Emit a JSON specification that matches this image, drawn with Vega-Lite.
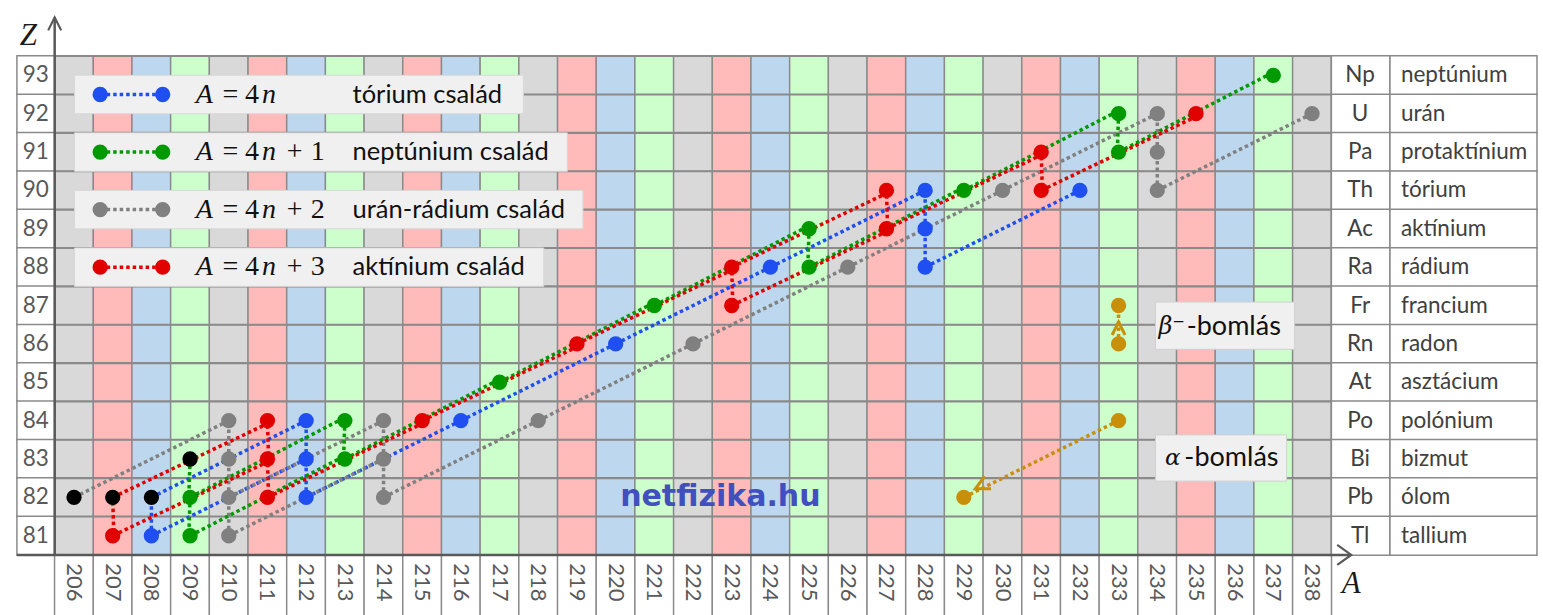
{
  "$schema": "https://vega.github.io/schema/vega-lite/v6.json",
  "width": 1543,
  "height": 615,
  "autosize": {"type": "none"},
  "padding": 0,
  "background": "white",
  "config": {"view": {"stroke": null}},
  "datasets": {
    "cols": [
      {"A": 206, "family": "4n+2"}, {"A": 207, "family": "4n+3"}, {"A": 208, "family": "4n"}, {"A": 209, "family": "4n+1"},
      {"A": 210, "family": "4n+2"}, {"A": 211, "family": "4n+3"}, {"A": 212, "family": "4n"}, {"A": 213, "family": "4n+1"},
      {"A": 214, "family": "4n+2"}, {"A": 215, "family": "4n+3"}, {"A": 216, "family": "4n"}, {"A": 217, "family": "4n+1"},
      {"A": 218, "family": "4n+2"}, {"A": 219, "family": "4n+3"}, {"A": 220, "family": "4n"}, {"A": 221, "family": "4n+1"},
      {"A": 222, "family": "4n+2"}, {"A": 223, "family": "4n+3"}, {"A": 224, "family": "4n"}, {"A": 225, "family": "4n+1"},
      {"A": 226, "family": "4n+2"}, {"A": 227, "family": "4n+3"}, {"A": 228, "family": "4n"}, {"A": 229, "family": "4n+1"},
      {"A": 230, "family": "4n+2"}, {"A": 231, "family": "4n+3"}, {"A": 232, "family": "4n"}, {"A": 233, "family": "4n+1"},
      {"A": 234, "family": "4n+2"}, {"A": 235, "family": "4n+3"}, {"A": 236, "family": "4n"}, {"A": 237, "family": "4n+1"},
      {"A": 238, "family": "4n+2"}
    ],
    "rows": [
      {"Z": 93, "sym": "Np", "name": "neptúnium"},
      {"Z": 92, "sym": "U", "name": "urán"},
      {"Z": 91, "sym": "Pa", "name": "protaktínium"},
      {"Z": 90, "sym": "Th", "name": "tórium"},
      {"Z": 89, "sym": "Ac", "name": "aktínium"},
      {"Z": 88, "sym": "Ra", "name": "rádium"},
      {"Z": 87, "sym": "Fr", "name": "francium"},
      {"Z": 86, "sym": "Rn", "name": "radon"},
      {"Z": 85, "sym": "At", "name": "asztácium"},
      {"Z": 84, "sym": "Po", "name": "polónium"},
      {"Z": 83, "sym": "Bi", "name": "bizmut"},
      {"Z": 82, "sym": "Pb", "name": "ólom"},
      {"Z": 81, "sym": "Tl", "name": "tallium"}
    ],
    "pts": [
      {"family": "4n", "A": 232, "Z": 90}, {"family": "4n", "A": 228, "Z": 88}, {"family": "4n", "A": 228, "Z": 89},
      {"family": "4n", "A": 228, "Z": 90}, {"family": "4n", "A": 224, "Z": 88}, {"family": "4n", "A": 220, "Z": 86},
      {"family": "4n", "A": 216, "Z": 84}, {"family": "4n", "A": 212, "Z": 82}, {"family": "4n", "A": 212, "Z": 83},
      {"family": "4n", "A": 212, "Z": 84}, {"family": "4n", "A": 208, "Z": 81},
      {"family": "4n+1", "A": 237, "Z": 93}, {"family": "4n+1", "A": 233, "Z": 91}, {"family": "4n+1", "A": 233, "Z": 92},
      {"family": "4n+1", "A": 229, "Z": 90}, {"family": "4n+1", "A": 225, "Z": 88}, {"family": "4n+1", "A": 225, "Z": 89},
      {"family": "4n+1", "A": 221, "Z": 87}, {"family": "4n+1", "A": 217, "Z": 85}, {"family": "4n+1", "A": 213, "Z": 83},
      {"family": "4n+1", "A": 213, "Z": 84}, {"family": "4n+1", "A": 209, "Z": 82}, {"family": "4n+1", "A": 209, "Z": 81},
      {"family": "4n+2", "A": 238, "Z": 92}, {"family": "4n+2", "A": 234, "Z": 90}, {"family": "4n+2", "A": 234, "Z": 91},
      {"family": "4n+2", "A": 234, "Z": 92}, {"family": "4n+2", "A": 230, "Z": 90}, {"family": "4n+2", "A": 226, "Z": 88},
      {"family": "4n+2", "A": 222, "Z": 86}, {"family": "4n+2", "A": 218, "Z": 84}, {"family": "4n+2", "A": 214, "Z": 82},
      {"family": "4n+2", "A": 214, "Z": 83}, {"family": "4n+2", "A": 214, "Z": 84}, {"family": "4n+2", "A": 210, "Z": 82},
      {"family": "4n+2", "A": 210, "Z": 83}, {"family": "4n+2", "A": 210, "Z": 84}, {"family": "4n+2", "A": 210, "Z": 81},
      {"family": "4n+3", "A": 235, "Z": 92}, {"family": "4n+3", "A": 231, "Z": 90}, {"family": "4n+3", "A": 231, "Z": 91},
      {"family": "4n+3", "A": 227, "Z": 89}, {"family": "4n+3", "A": 227, "Z": 90}, {"family": "4n+3", "A": 223, "Z": 88},
      {"family": "4n+3", "A": 223, "Z": 87}, {"family": "4n+3", "A": 219, "Z": 86}, {"family": "4n+3", "A": 215, "Z": 84},
      {"family": "4n+3", "A": 211, "Z": 82}, {"family": "4n+3", "A": 211, "Z": 83}, {"family": "4n+3", "A": 211, "Z": 84},
      {"family": "4n+3", "A": 207, "Z": 81},
      {"family": "stable", "A": 206, "Z": 82}, {"family": "stable", "A": 207, "Z": 82},
      {"family": "stable", "A": 208, "Z": 82}, {"family": "stable", "A": 209, "Z": 83},
      {"family": "demo", "A": 233, "Z": 87}, {"family": "demo", "A": 233, "Z": 86},
      {"family": "demo", "A": 233, "Z": 84}, {"family": "demo", "A": 229, "Z": 82}
    ],
    "segs": [
      {"family": "4n", "A1": 232, "Z1": 90, "A2": 228, "Z2": 88},
      {"family": "4n", "A1": 228, "Z1": 88, "A2": 228, "Z2": 89},
      {"family": "4n", "A1": 228, "Z1": 89, "A2": 228, "Z2": 90},
      {"family": "4n", "A1": 228, "Z1": 90, "A2": 224, "Z2": 88},
      {"family": "4n", "A1": 224, "Z1": 88, "A2": 220, "Z2": 86},
      {"family": "4n", "A1": 220, "Z1": 86, "A2": 216, "Z2": 84},
      {"family": "4n", "A1": 216, "Z1": 84, "A2": 212, "Z2": 82},
      {"family": "4n", "A1": 212, "Z1": 82, "A2": 212, "Z2": 83},
      {"family": "4n", "A1": 212, "Z1": 83, "A2": 212, "Z2": 84},
      {"family": "4n", "A1": 212, "Z1": 84, "A2": 208, "Z2": 82},
      {"family": "4n", "A1": 212, "Z1": 83, "A2": 208, "Z2": 81},
      {"family": "4n", "A1": 208, "Z1": 81, "A2": 208, "Z2": 82},
      {"family": "4n+1", "A1": 237, "Z1": 93, "A2": 233, "Z2": 91},
      {"family": "4n+1", "A1": 233, "Z1": 91, "A2": 233, "Z2": 92},
      {"family": "4n+1", "A1": 233, "Z1": 92, "A2": 229, "Z2": 90},
      {"family": "4n+1", "A1": 229, "Z1": 90, "A2": 225, "Z2": 88},
      {"family": "4n+1", "A1": 225, "Z1": 88, "A2": 225, "Z2": 89},
      {"family": "4n+1", "A1": 225, "Z1": 89, "A2": 221, "Z2": 87},
      {"family": "4n+1", "A1": 221, "Z1": 87, "A2": 217, "Z2": 85},
      {"family": "4n+1", "A1": 217, "Z1": 85, "A2": 213, "Z2": 83},
      {"family": "4n+1", "A1": 213, "Z1": 83, "A2": 213, "Z2": 84},
      {"family": "4n+1", "A1": 213, "Z1": 84, "A2": 209, "Z2": 82},
      {"family": "4n+1", "A1": 213, "Z1": 83, "A2": 209, "Z2": 81},
      {"family": "4n+1", "A1": 209, "Z1": 81, "A2": 209, "Z2": 82},
      {"family": "4n+1", "A1": 209, "Z1": 82, "A2": 209, "Z2": 83},
      {"family": "4n+2", "A1": 238, "Z1": 92, "A2": 234, "Z2": 90},
      {"family": "4n+2", "A1": 234, "Z1": 90, "A2": 234, "Z2": 91},
      {"family": "4n+2", "A1": 234, "Z1": 91, "A2": 234, "Z2": 92},
      {"family": "4n+2", "A1": 234, "Z1": 92, "A2": 230, "Z2": 90},
      {"family": "4n+2", "A1": 230, "Z1": 90, "A2": 226, "Z2": 88},
      {"family": "4n+2", "A1": 226, "Z1": 88, "A2": 222, "Z2": 86},
      {"family": "4n+2", "A1": 222, "Z1": 86, "A2": 218, "Z2": 84},
      {"family": "4n+2", "A1": 218, "Z1": 84, "A2": 214, "Z2": 82},
      {"family": "4n+2", "A1": 214, "Z1": 82, "A2": 214, "Z2": 83},
      {"family": "4n+2", "A1": 214, "Z1": 83, "A2": 214, "Z2": 84},
      {"family": "4n+2", "A1": 214, "Z1": 84, "A2": 210, "Z2": 82},
      {"family": "4n+2", "A1": 214, "Z1": 83, "A2": 210, "Z2": 81},
      {"family": "4n+2", "A1": 210, "Z1": 81, "A2": 210, "Z2": 82},
      {"family": "4n+2", "A1": 210, "Z1": 82, "A2": 210, "Z2": 83},
      {"family": "4n+2", "A1": 210, "Z1": 83, "A2": 210, "Z2": 84},
      {"family": "4n+2", "A1": 210, "Z1": 84, "A2": 206, "Z2": 82},
      {"family": "4n+3", "A1": 235, "Z1": 92, "A2": 231, "Z2": 90},
      {"family": "4n+3", "A1": 231, "Z1": 90, "A2": 231, "Z2": 91},
      {"family": "4n+3", "A1": 231, "Z1": 91, "A2": 227, "Z2": 89},
      {"family": "4n+3", "A1": 227, "Z1": 89, "A2": 227, "Z2": 90},
      {"family": "4n+3", "A1": 227, "Z1": 90, "A2": 223, "Z2": 88},
      {"family": "4n+3", "A1": 227, "Z1": 89, "A2": 223, "Z2": 87},
      {"family": "4n+3", "A1": 223, "Z1": 87, "A2": 223, "Z2": 88},
      {"family": "4n+3", "A1": 223, "Z1": 88, "A2": 219, "Z2": 86},
      {"family": "4n+3", "A1": 219, "Z1": 86, "A2": 215, "Z2": 84},
      {"family": "4n+3", "A1": 215, "Z1": 84, "A2": 211, "Z2": 82},
      {"family": "4n+3", "A1": 211, "Z1": 82, "A2": 211, "Z2": 83},
      {"family": "4n+3", "A1": 211, "Z1": 83, "A2": 211, "Z2": 84},
      {"family": "4n+3", "A1": 211, "Z1": 84, "A2": 207, "Z2": 82},
      {"family": "4n+3", "A1": 211, "Z1": 83, "A2": 207, "Z2": 81},
      {"family": "4n+3", "A1": 207, "Z1": 81, "A2": 207, "Z2": 82},
      {"family": "demo", "A1": 233, "Z1": 86, "A2": 233, "Z2": 87},
      {"family": "demo", "A1": 233, "Z1": 84, "A2": 229, "Z2": 82}
    ],
    "leg": [
      {"family": "4n", "lz": 92.5, "plus": "", "d": "", "name": "tórium család"},
      {"family": "4n+1", "lz": 91, "plus": "+", "d": "1", "name": "neptúnium család"},
      {"family": "4n+2", "lz": 89.5, "plus": "+", "d": "2", "name": "urán-rádium család"},
      {"family": "4n+3", "lz": 88, "plus": "+", "d": "3", "name": "aktínium család"}
    ]
  },
  "layer": [
    {
      "data": {"name": "cols"},
      "mark": {"type": "bar", "width": 38.94, "stroke": "#8a8a8a", "strokeWidth": 1.5},
      "encoding": {
        "x": {"field": "A", "type": "quantitative", "scale": {"domain": [204.216, 243.841], "nice": false, "zero": false}, "axis": null},
        "y": {"datum": 80.5, "type": "quantitative", "scale": {"domain": [79.064, 94.833], "nice": false, "zero": false}, "axis": null},
        "y2": {"datum": 93.5},
        "fill": {"field": "family", "type": "nominal", "scale": {"domain": ["4n", "4n+1", "4n+2", "4n+3"], "range": ["#bdd7ee", "#ccffcc", "#d9d9d9", "#ffbaba"]}, "legend": null}
      }
    },
    {
      "data": {"name": "rows"},
      "mark": {"type": "bar", "height": 39, "fillOpacity": 0, "stroke": "#8a8a8a", "strokeWidth": 1.5},
      "encoding": {
        "y": {"field": "Z", "type": "quantitative", "scale": {"domain": [79.064, 94.833], "nice": false, "zero": false}, "axis": null},
        "x": {"datum": 205.5, "type": "quantitative", "scale": {"domain": [204.216, 243.841], "nice": false, "zero": false}, "axis": null},
        "x2": {"datum": 238.5}
      }
    },
    {
      "data": {"name": "rows"},
      "mark": {"type": "bar", "height": 39, "fill": "white", "stroke": "#8a8a8a", "strokeWidth": 1.5},
      "encoding": {
        "y": {"field": "Z", "type": "quantitative", "scale": {"domain": [79.064, 94.833], "nice": false, "zero": false}, "axis": null},
        "x": {"datum": 204.524, "type": "quantitative", "scale": {"domain": [204.216, 243.841], "nice": false, "zero": false}, "axis": null},
        "x2": {"datum": 205.5}
      }
    },
    {
      "data": {"name": "rows"},
      "mark": {"type": "bar", "height": 39, "fill": "white", "stroke": "#8a8a8a", "strokeWidth": 1.5},
      "encoding": {
        "y": {"field": "Z", "type": "quantitative", "scale": {"domain": [79.064, 94.833], "nice": false, "zero": false}, "axis": null},
        "x": {"datum": 238.5, "type": "quantitative", "scale": {"domain": [204.216, 243.841], "nice": false, "zero": false}, "axis": null},
        "x2": {"datum": 240.015}
      }
    },
    {
      "data": {"name": "rows"},
      "mark": {"type": "bar", "height": 39, "fill": "white", "stroke": "#8a8a8a", "strokeWidth": 1.5},
      "encoding": {
        "y": {"field": "Z", "type": "quantitative", "scale": {"domain": [79.064, 94.833], "nice": false, "zero": false}, "axis": null},
        "x": {"datum": 240.015, "type": "quantitative", "scale": {"domain": [204.216, 243.841], "nice": false, "zero": false}, "axis": null},
        "x2": {"datum": 243.815}
      }
    },
    {
      "data": {"name": "cols"},
      "mark": {"type": "bar", "width": 38.94, "fill": "white", "stroke": "#8a8a8a", "strokeWidth": 1.5},
      "encoding": {
        "x": {"field": "A", "type": "quantitative", "scale": {"domain": [204.216, 243.841], "nice": false, "zero": false}, "axis": null},
        "y": {"datum": 78.9, "type": "quantitative", "scale": {"domain": [79.064, 94.833], "nice": false, "zero": false}, "axis": null},
        "y2": {"datum": 80.5}
      }
    },
    {
      "data": {"name": "rows"},
      "mark": {"type": "text", "font": "Lato", "fontSize": 22.5, "color": "#595959", "align": "center", "baseline": "middle"},
      "encoding": {
        "y": {"field": "Z", "type": "quantitative", "scale": {"domain": [79.064, 94.833], "nice": false, "zero": false}, "axis": null},
        "x": {"datum": 205.012, "type": "quantitative", "scale": {"domain": [204.216, 243.841], "nice": false, "zero": false}, "axis": null},
        "text": {"field": "Z", "type": "nominal"}
      }
    },
    {
      "data": {"name": "rows"},
      "mark": {"type": "text", "font": "Lato", "fontSize": 22.5, "color": "#404040", "align": "center", "baseline": "middle"},
      "encoding": {
        "y": {"field": "Z", "type": "quantitative", "scale": {"domain": [79.064, 94.833], "nice": false, "zero": false}, "axis": null},
        "x": {"datum": 239.244, "type": "quantitative", "scale": {"domain": [204.216, 243.841], "nice": false, "zero": false}, "axis": null},
        "text": {"field": "sym", "type": "nominal"}
      }
    },
    {
      "data": {"name": "rows"},
      "mark": {"type": "text", "font": "Lato", "fontSize": 22.5, "color": "#404040", "align": "left", "baseline": "middle"},
      "encoding": {
        "y": {"field": "Z", "type": "quantitative", "scale": {"domain": [79.064, 94.833], "nice": false, "zero": false}, "axis": null},
        "x": {"datum": 240.297, "type": "quantitative", "scale": {"domain": [204.216, 243.841], "nice": false, "zero": false}, "axis": null},
        "text": {"field": "name", "type": "nominal"}
      }
    },
    {
      "data": {"name": "cols"},
      "mark": {"type": "text", "font": "Lato", "fontSize": 22, "color": "#595959", "align": "center", "baseline": "middle", "angle": 90},
      "encoding": {
        "x": {"field": "A", "type": "quantitative", "scale": {"domain": [204.216, 243.841], "nice": false, "zero": false}, "axis": null},
        "y": {"datum": 79.782, "type": "quantitative", "scale": {"domain": [79.064, 94.833], "nice": false, "zero": false}, "axis": null},
        "text": {"field": "A", "type": "nominal"}
      }
    },
    {
      "data": {"values": [{}]},
      "mark": {"type": "rule", "stroke": "#595959", "strokeWidth": 2.5},
      "encoding": {
        "x": {"datum": 205.5, "type": "quantitative", "scale": {"domain": [204.216, 243.841], "nice": false, "zero": false}, "axis": null},
        "y": {"datum": 80.5, "type": "quantitative", "scale": {"domain": [79.064, 94.833], "nice": false, "zero": false}, "axis": null},
        "y2": {"datum": 94.507}
      }
    },
    {
      "data": {"values": [{}]},
      "mark": {"type": "rule", "stroke": "#595959", "strokeWidth": 2.5},
      "encoding": {
        "x": {"datum": 204.524, "type": "quantitative", "scale": {"domain": [204.216, 243.841], "nice": false, "zero": false}, "axis": null},
        "x2": {"datum": 239.013},
        "y": {"datum": 80.5, "type": "quantitative", "scale": {"domain": [79.064, 94.833], "nice": false, "zero": false}, "axis": null}
      }
    },
    {
      "data": {"values": [{}]},
      "mark": {"type": "point", "shape": "M-1,1L0,-1L1,1", "size": 169, "filled": false, "stroke": "#595959", "strokeWidth": 2.2, "opacity": 1},
      "encoding": {
        "x": {"datum": 205.5, "type": "quantitative", "scale": {"domain": [204.216, 243.841], "nice": false, "zero": false}, "axis": null},
        "y": {"datum": 94.341, "type": "quantitative", "scale": {"domain": [79.064, 94.833], "nice": false, "zero": false}, "axis": null}
      }
    },
    {
      "data": {"values": [{}]},
      "mark": {"type": "point", "shape": "M-0.7,-1L0.7,0L-0.7,1", "size": 400, "filled": false, "stroke": "#595959", "strokeWidth": 2.2, "opacity": 1},
      "encoding": {
        "x": {"datum": 238.833, "type": "quantitative", "scale": {"domain": [204.216, 243.841], "nice": false, "zero": false}, "axis": null},
        "y": {"datum": 80.5, "type": "quantitative", "scale": {"domain": [79.064, 94.833], "nice": false, "zero": false}, "axis": null}
      }
    },
    {
      "data": {"values": [{"t": "Z"}]},
      "mark": {"type": "text", "font": "Liberation Serif", "fontStyle": "italic", "fontSize": 31, "color": "#1a1a1a", "align": "center", "baseline": "middle"},
      "encoding": {
        "x": {"datum": 204.819, "type": "quantitative", "scale": {"domain": [204.216, 243.841], "nice": false, "zero": false}, "axis": null},
        "y": {"datum": 94.038, "type": "quantitative", "scale": {"domain": [79.064, 94.833], "nice": false, "zero": false}, "axis": null},
        "text": {"field": "t", "type": "nominal"}
      }
    },
    {
      "data": {"values": [{"t": "A"}]},
      "mark": {"type": "text", "font": "Liberation Serif", "fontStyle": "italic", "fontSize": 31, "color": "#1a1a1a", "align": "center", "baseline": "middle"},
      "encoding": {
        "x": {"datum": 239.013, "type": "quantitative", "scale": {"domain": [204.216, 243.841], "nice": false, "zero": false}, "axis": null},
        "y": {"datum": 79.731, "type": "quantitative", "scale": {"domain": [79.064, 94.833], "nice": false, "zero": false}, "axis": null},
        "text": {"field": "t", "type": "nominal"}
      }
    },
    {
      "data": {"values": [{}]},
      "mark": {"type": "rect", "fill": "#f0f0f0", "stroke": "#d9d9d9", "strokeWidth": 1},
      "encoding": {
        "x": {"datum": 206.014, "type": "quantitative", "scale": {"domain": [204.216, 243.841], "nice": false, "zero": false}, "axis": null},
        "x2": {"datum": 217.614},
        "y": {"datum": 92, "type": "quantitative", "scale": {"domain": [79.064, 94.833], "nice": false, "zero": false}, "axis": null},
        "y2": {"datum": 93}
      }
    },
    {
      "data": {"values": [{}]},
      "mark": {"type": "rect", "fill": "#f0f0f0", "stroke": "#d9d9d9", "strokeWidth": 1},
      "encoding": {
        "x": {"datum": 206.014, "type": "quantitative", "scale": {"domain": [204.216, 243.841], "nice": false, "zero": false}, "axis": null},
        "x2": {"datum": 218.751},
        "y": {"datum": 90.5, "type": "quantitative", "scale": {"domain": [79.064, 94.833], "nice": false, "zero": false}, "axis": null},
        "y2": {"datum": 91.5}
      }
    },
    {
      "data": {"values": [{}]},
      "mark": {"type": "rect", "fill": "#f0f0f0", "stroke": "#d9d9d9", "strokeWidth": 1},
      "encoding": {
        "x": {"datum": 206.014, "type": "quantitative", "scale": {"domain": [204.216, 243.841], "nice": false, "zero": false}, "axis": null},
        "x2": {"datum": 219.154},
        "y": {"datum": 89, "type": "quantitative", "scale": {"domain": [79.064, 94.833], "nice": false, "zero": false}, "axis": null},
        "y2": {"datum": 90}
      }
    },
    {
      "data": {"values": [{}]},
      "mark": {"type": "rect", "fill": "#f0f0f0", "stroke": "#d9d9d9", "strokeWidth": 1},
      "encoding": {
        "x": {"datum": 206.014, "type": "quantitative", "scale": {"domain": [204.216, 243.841], "nice": false, "zero": false}, "axis": null},
        "x2": {"datum": 218.142},
        "y": {"datum": 87.5, "type": "quantitative", "scale": {"domain": [79.064, 94.833], "nice": false, "zero": false}, "axis": null},
        "y2": {"datum": 88.5}
      }
    },
    {
      "data": {"name": "leg"},
      "mark": {"type": "rule", "strokeWidth": 3.5, "strokeDash": [3.5, 3], "strokeCap": "butt"},
      "encoding": {
        "x": {"datum": 206.676, "type": "quantitative", "scale": {"domain": [204.216, 243.841], "nice": false, "zero": false}, "axis": null},
        "x2": {"datum": 208.292},
        "y": {"field": "lz", "type": "quantitative", "scale": {"domain": [79.064, 94.833], "nice": false, "zero": false}, "axis": null},
        "color": {"field": "family", "type": "nominal", "scale": {"domain": ["4n", "4n+1", "4n+2", "4n+3", "stable", "demo"], "range": ["#1f4ff0", "#009a00", "#808080", "#e00000", "#000000", "#c8900a"]}, "legend": null}
      }
    },
    {
      "data": {"name": "leg"},
      "mark": {"type": "circle", "size": 235, "opacity": 1},
      "encoding": {
        "x": {"datum": 206.676, "type": "quantitative", "scale": {"domain": [204.216, 243.841], "nice": false, "zero": false}, "axis": null},
        "y": {"field": "lz", "type": "quantitative", "scale": {"domain": [79.064, 94.833], "nice": false, "zero": false}, "axis": null},
        "color": {"field": "family", "type": "nominal", "scale": {"domain": ["4n", "4n+1", "4n+2", "4n+3", "stable", "demo"], "range": ["#1f4ff0", "#009a00", "#808080", "#e00000", "#000000", "#c8900a"]}, "legend": null}
      }
    },
    {
      "data": {"name": "leg"},
      "mark": {"type": "circle", "size": 235, "opacity": 1},
      "encoding": {
        "x": {"datum": 208.292, "type": "quantitative", "scale": {"domain": [204.216, 243.841], "nice": false, "zero": false}, "axis": null},
        "y": {"field": "lz", "type": "quantitative", "scale": {"domain": [79.064, 94.833], "nice": false, "zero": false}, "axis": null},
        "color": {"field": "family", "type": "nominal", "scale": {"domain": ["4n", "4n+1", "4n+2", "4n+3", "stable", "demo"], "range": ["#1f4ff0", "#009a00", "#808080", "#e00000", "#000000", "#c8900a"]}, "legend": null}
      }
    },
    {
      "data": {"name": "leg"},
      "mark": {"type": "text", "font": "Liberation Serif", "fontStyle": "italic", "fontSize": 28, "color": "#111111", "align": "center", "baseline": "middle", "text": "A"},
      "encoding": {
        "x": {"datum": 209.37, "type": "quantitative", "scale": {"domain": [204.216, 243.841], "nice": false, "zero": false}, "axis": null},
        "y": {"field": "lz", "type": "quantitative", "scale": {"domain": [79.064, 94.833], "nice": false, "zero": false}, "axis": null}
      }
    },
    {
      "data": {"name": "leg"},
      "mark": {"type": "text", "font": "Liberation Serif", "fontSize": 28, "color": "#111111", "align": "center", "baseline": "middle", "text": "="},
      "encoding": {
        "x": {"datum": 210.04, "type": "quantitative", "scale": {"domain": [204.216, 243.841], "nice": false, "zero": false}, "axis": null},
        "y": {"field": "lz", "type": "quantitative", "scale": {"domain": [79.064, 94.833], "nice": false, "zero": false}, "axis": null}
      }
    },
    {
      "data": {"name": "leg"},
      "mark": {"type": "text", "font": "Liberation Serif", "fontSize": 28, "color": "#111111", "align": "center", "baseline": "middle", "text": "4"},
      "encoding": {
        "x": {"datum": 210.6, "type": "quantitative", "scale": {"domain": [204.216, 243.841], "nice": false, "zero": false}, "axis": null},
        "y": {"field": "lz", "type": "quantitative", "scale": {"domain": [79.064, 94.833], "nice": false, "zero": false}, "axis": null}
      }
    },
    {
      "data": {"name": "leg"},
      "mark": {"type": "text", "font": "Liberation Serif", "fontStyle": "italic", "fontSize": 28, "color": "#111111", "align": "center", "baseline": "middle", "text": "n"},
      "encoding": {
        "x": {"datum": 211.04, "type": "quantitative", "scale": {"domain": [204.216, 243.841], "nice": false, "zero": false}, "axis": null},
        "y": {"field": "lz", "type": "quantitative", "scale": {"domain": [79.064, 94.833], "nice": false, "zero": false}, "axis": null}
      }
    },
    {
      "data": {"name": "leg"},
      "mark": {"type": "text", "font": "Liberation Serif", "fontSize": 28, "color": "#111111", "align": "center", "baseline": "middle"},
      "encoding": {
        "x": {"datum": 211.7, "type": "quantitative", "scale": {"domain": [204.216, 243.841], "nice": false, "zero": false}, "axis": null},
        "y": {"field": "lz", "type": "quantitative", "scale": {"domain": [79.064, 94.833], "nice": false, "zero": false}, "axis": null},
        "text": {"field": "plus", "type": "nominal"}
      }
    },
    {
      "data": {"name": "leg"},
      "mark": {"type": "text", "font": "Liberation Serif", "fontSize": 28, "color": "#111111", "align": "center", "baseline": "middle"},
      "encoding": {
        "x": {"datum": 212.298, "type": "quantitative", "scale": {"domain": [204.216, 243.841], "nice": false, "zero": false}, "axis": null},
        "y": {"field": "lz", "type": "quantitative", "scale": {"domain": [79.064, 94.833], "nice": false, "zero": false}, "axis": null},
        "text": {"field": "d", "type": "nominal"}
      }
    },
    {
      "data": {"name": "leg"},
      "mark": {"type": "text", "font": "Lato", "fontSize": 25.5, "color": "#111111", "align": "left", "baseline": "middle"},
      "encoding": {
        "x": {"datum": 213.2, "type": "quantitative", "scale": {"domain": [204.216, 243.841], "nice": false, "zero": false}, "axis": null},
        "y": {"field": "lz", "type": "quantitative", "scale": {"domain": [79.064, 94.833], "nice": false, "zero": false}, "axis": null},
        "text": {"field": "name", "type": "nominal"}
      }
    },
    {
      "data": {"name": "segs"},
      "transform": [{"filter": "datum.family != '4n+1' && datum.family != '4n+3'"}],
      "mark": {"type": "rule", "strokeWidth": 3.5, "strokeDash": [3.5, 3], "strokeCap": "butt"},
      "encoding": {
        "x": {"field": "A1", "type": "quantitative", "scale": {"domain": [204.216, 243.841], "nice": false, "zero": false}, "axis": null},
        "x2": {"field": "A2"},
        "y": {"field": "Z1", "type": "quantitative", "scale": {"domain": [79.064, 94.833], "nice": false, "zero": false}, "axis": null},
        "y2": {"field": "Z2"},
        "color": {"field": "family", "type": "nominal", "scale": {"domain": ["4n", "4n+1", "4n+2", "4n+3", "stable", "demo"], "range": ["#1f4ff0", "#009a00", "#808080", "#e00000", "#000000", "#c8900a"]}, "legend": null}
      }
    },
    {
      "data": {"name": "segs"},
      "transform": [{"filter": "datum.family == '4n+1'"}],
      "mark": {"type": "rule", "strokeWidth": 3.5, "strokeDash": [3.5, 3], "strokeCap": "butt", "xOffset": -1.2, "yOffset": -2.4},
      "encoding": {
        "x": {"field": "A1", "type": "quantitative", "scale": {"domain": [204.216, 243.841], "nice": false, "zero": false}, "axis": null},
        "x2": {"field": "A2"},
        "y": {"field": "Z1", "type": "quantitative", "scale": {"domain": [79.064, 94.833], "nice": false, "zero": false}, "axis": null},
        "y2": {"field": "Z2"},
        "color": {"field": "family", "type": "nominal", "scale": {"domain": ["4n", "4n+1", "4n+2", "4n+3", "stable", "demo"], "range": ["#1f4ff0", "#009a00", "#808080", "#e00000", "#000000", "#c8900a"]}, "legend": null}
      }
    },
    {
      "data": {"name": "segs"},
      "transform": [{"filter": "datum.family == '4n+3'"}],
      "mark": {"type": "rule", "strokeWidth": 3.5, "strokeDash": [3.5, 3], "strokeCap": "butt", "xOffset": 1.2, "yOffset": 2.4},
      "encoding": {
        "x": {"field": "A1", "type": "quantitative", "scale": {"domain": [204.216, 243.841], "nice": false, "zero": false}, "axis": null},
        "x2": {"field": "A2"},
        "y": {"field": "Z1", "type": "quantitative", "scale": {"domain": [79.064, 94.833], "nice": false, "zero": false}, "axis": null},
        "y2": {"field": "Z2"},
        "color": {"field": "family", "type": "nominal", "scale": {"domain": ["4n", "4n+1", "4n+2", "4n+3", "stable", "demo"], "range": ["#1f4ff0", "#009a00", "#808080", "#e00000", "#000000", "#c8900a"]}, "legend": null}
      }
    },
    {
      "data": {"name": "pts"},
      "mark": {"type": "circle", "size": 235, "opacity": 1},
      "encoding": {
        "x": {"field": "A", "type": "quantitative", "scale": {"domain": [204.216, 243.841], "nice": false, "zero": false}, "axis": null},
        "y": {"field": "Z", "type": "quantitative", "scale": {"domain": [79.064, 94.833], "nice": false, "zero": false}, "axis": null},
        "color": {"field": "family", "type": "nominal", "scale": {"domain": ["4n", "4n+1", "4n+2", "4n+3", "stable", "demo"], "range": ["#1f4ff0", "#009a00", "#808080", "#e00000", "#000000", "#c8900a"]}, "legend": null}
      }
    },
    {
      "data": {"values": [{}]},
      "mark": {"type": "point", "shape": "M-1,1L0,-1L1,1", "size": 169, "filled": false, "stroke": "#c8900a", "strokeWidth": 3, "opacity": 1},
      "encoding": {
        "x": {"datum": 233, "type": "quantitative", "scale": {"domain": [204.216, 243.841], "nice": false, "zero": false}, "axis": null},
        "y": {"datum": 86.4, "type": "quantitative", "scale": {"domain": [79.064, 94.833], "nice": false, "zero": false}, "axis": null}
      }
    },
    {
      "data": {"values": [{}]},
      "mark": {"type": "point", "shape": "M-1,1L0,-1L1,1", "size": 196, "filled": false, "stroke": "#c8900a", "strokeWidth": 3, "opacity": 1, "angle": 243.4},
      "encoding": {
        "x": {"datum": 229.46, "type": "quantitative", "scale": {"domain": [204.216, 243.841], "nice": false, "zero": false}, "axis": null},
        "y": {"datum": 82.305, "type": "quantitative", "scale": {"domain": [79.064, 94.833], "nice": false, "zero": false}, "axis": null}
      }
    },
    {
      "data": {"values": [{}]},
      "mark": {"type": "rect", "fill": "#f0f0f0", "stroke": "#d0d0d0", "strokeWidth": 1},
      "encoding": {
        "x": {"datum": 233.954, "type": "quantitative", "scale": {"domain": [204.216, 243.841], "nice": false, "zero": false}, "axis": null},
        "x2": {"datum": 237.55},
        "y": {"datum": 85.859, "type": "quantitative", "scale": {"domain": [79.064, 94.833], "nice": false, "zero": false}, "axis": null},
        "y2": {"datum": 87.09}
      }
    },
    {
      "data": {"values": [{}]},
      "mark": {"type": "rect", "fill": "#f0f0f0", "stroke": "#d0d0d0", "strokeWidth": 1},
      "encoding": {
        "x": {"datum": 233.954, "type": "quantitative", "scale": {"domain": [204.216, 243.841], "nice": false, "zero": false}, "axis": null},
        "x2": {"datum": 237.344},
        "y": {"datum": 82.423, "type": "quantitative", "scale": {"domain": [79.064, 94.833], "nice": false, "zero": false}, "axis": null},
        "y2": {"datum": 83.628}
      }
    },
    {
      "data": {"values": [{"t": "β⁻"}]},
      "mark": {"type": "text", "font": "DejaVu Serif", "fontStyle": "italic", "fontSize": 24, "color": "#111111", "align": "left", "baseline": "middle"},
      "encoding": {
        "x": {"datum": 234.031, "type": "quantitative", "scale": {"domain": [204.216, 243.841], "nice": false, "zero": false}, "axis": null},
        "y": {"datum": 86.44, "type": "quantitative", "scale": {"domain": [79.064, 94.833], "nice": false, "zero": false}, "axis": null},
        "text": {"field": "t", "type": "nominal"}
      }
    },
    {
      "data": {"values": [{"t": "-bomlás"}]},
      "mark": {"type": "text", "font": "Lato", "fontSize": 27, "color": "#111111", "align": "left", "baseline": "middle"},
      "encoding": {
        "x": {"datum": 234.76, "type": "quantitative", "scale": {"domain": [204.216, 243.841], "nice": false, "zero": false}, "axis": null},
        "y": {"datum": 86.44, "type": "quantitative", "scale": {"domain": [79.064, 94.833], "nice": false, "zero": false}, "axis": null},
        "text": {"field": "t", "type": "nominal"}
      }
    },
    {
      "data": {"values": [{"t": "α"}]},
      "mark": {"type": "text", "font": "DejaVu Serif", "fontStyle": "italic", "fontSize": 23, "color": "#111111", "align": "left", "baseline": "middle"},
      "encoding": {
        "x": {"datum": 234.2, "type": "quantitative", "scale": {"domain": [204.216, 243.841], "nice": false, "zero": false}, "axis": null},
        "y": {"datum": 83.013, "type": "quantitative", "scale": {"domain": [79.064, 94.833], "nice": false, "zero": false}, "axis": null},
        "text": {"field": "t", "type": "nominal"}
      }
    },
    {
      "data": {"values": [{"t": "-bomlás"}]},
      "mark": {"type": "text", "font": "Lato", "fontSize": 27, "color": "#111111", "align": "left", "baseline": "middle"},
      "encoding": {
        "x": {"datum": 234.7, "type": "quantitative", "scale": {"domain": [204.216, 243.841], "nice": false, "zero": false}, "axis": null},
        "y": {"datum": 83.013, "type": "quantitative", "scale": {"domain": [79.064, 94.833], "nice": false, "zero": false}, "axis": null},
        "text": {"field": "t", "type": "nominal"}
      }
    },
    {
      "data": {"values": [{"t": "netfizika.hu"}]},
      "mark": {"type": "text", "font": "DejaVu Sans", "fontWeight": "bold", "fontSize": 30, "color": "#4150be", "align": "center", "baseline": "middle"},
      "encoding": {
        "x": {"datum": 222.706, "type": "quantitative", "scale": {"domain": [204.216, 243.841], "nice": false, "zero": false}, "axis": null},
        "y": {"datum": 82.013, "type": "quantitative", "scale": {"domain": [79.064, 94.833], "nice": false, "zero": false}, "axis": null},
        "text": {"field": "t", "type": "nominal"}
      }
    }
  ]
}
